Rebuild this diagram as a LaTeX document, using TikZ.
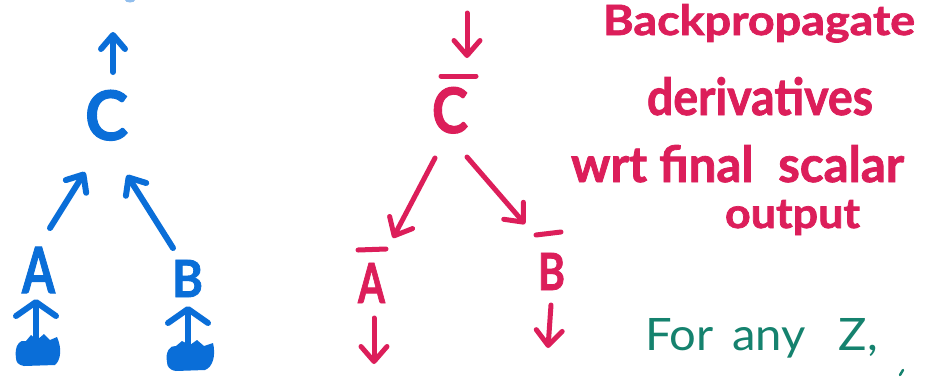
\documentclass[tikz,border=0pt]{standalone}
\usepackage{fontspec}
\setmainfont{Lato}
\newfontfamily\heavyfont{Lato}[FakeBold=1.6]
\usetikzlibrary{arrows.meta}
\definecolor{pblue}{HTML}{0A6ED8}
\definecolor{pred}{HTML}{DC1E5A}
\definecolor{pgreen}{HTML}{15826E}
\newcommand{\fitbox}[3]{\resizebox{#1pt}{#2pt}{\heavyfont\bfseries #3}}
\begin{document}
\begin{tikzpicture}[x=1pt,y=-1pt,
  lbl/.style={inner sep=0pt, outer sep=0pt, anchor=base west},
  pen/.style={line width=6pt, line cap=round, line join=round},
  bluearr/.style={pen, pblue, -{Straight Barb[round,length=14pt,width=24pt]}},
  bluebig/.style={pen, pblue, -{Straight Barb[round,length=14pt,width=40pt]}},
  redarr/.style={pen, line width=5pt, pred, -{Straight Barb[round,length=15pt,width=26pt]}},
  redbar/.style={pen, line width=5pt, pred},
  blob/.style={fill=pblue}]
\fill[white] (0,0) rectangle (927,376);
\useasboundingbox (0,0) rectangle (927,376);

% ---------- blue forward graph ----------
\node[lbl, pblue] (bC) at (85,140) {\fitbox{43}{50}{C}};
\node[lbl, pblue] (bA) at (22,293) {\fitbox{33}{46}{A}};
\node[lbl, pblue] (bB) at (172,297) {\fitbox{31}{37}{B}};

\coordinate (bCout0) at (113,72);
\coordinate (bCout1) at (113,32);
\coordinate (bAC0) at (50,228);
\coordinate (bAC1) at (85,172);
\coordinate (bBC0) at (173,248);
\coordinate (bBC1) at (127,175);
\coordinate (bAin0) at (36,342);
\coordinate (bAin1) at (36,299);
\coordinate (bBin0) at (188,346);
\coordinate (bBin1) at (188,306);

\draw[bluearr] (bCout0) -- (bCout1);
\draw[bluearr] (bAC0) -- (bAC1);
\draw[bluearr] (bBC0) -- (bBC1);
\draw[bluebig] (bAin0) -- (bAin1);
\draw[bluebig] (bBin0) -- (bBin1);

% scribbled blobs
\fill[blob] (16,358) .. controls (14,346) and (20,339) .. (26,341) -- (31,335) -- (37,340) -- (44,334) -- (50,340) -- (57,337)
  .. controls (62,348) and (61,360) .. (55,365) -- (24,366) .. controls (18,365) and (16,362) .. (16,358) -- cycle;
\fill[blob] (167,362) .. controls (165,352) and (170,345) .. (176,346) -- (182,341) -- (190,345) -- (197,340) -- (204,346) -- (213,343)
  .. controls (216,355) and (213,367) .. (205,370) -- (176,371) .. controls (169,370) and (167,366) .. (167,362) -- cycle;

% fragment at top edge
\fill[pblue!45] (130,0) ellipse [x radius=5pt, y radius=2.5pt];

% ---------- red backward graph ----------
\node[lbl, pred] (rC) at (432,133) {\fitbox{36}{46}{C}};
\node[lbl, pred] (rA) at (358,303) {\fitbox{27}{40}{A}};
\node[lbl, pred] (rB) at (538,290) {\fitbox{27}{37}{B}};

\draw[redbar] (441,76) -- (476,76);
\draw[redbar] (358,250) -- (386,249);
\draw[redbar] (536,235) -- (561,232);

\coordinate (rCin0) at (467,13);
\coordinate (rCin1) at (467,58);
\coordinate (rCA0) at (435,158);
\coordinate (rCA1) at (393,238);
\coordinate (rCB0) at (467,157);
\coordinate (rCB1) at (525,224);
\coordinate (rAout0) at (374,318);
\coordinate (rAout1) at (374,364);
\coordinate (rBout0) at (551,305);
\coordinate (rBout1) at (548,348);

\draw[redarr] (rCin0) -- (rCin1);
\draw[redarr] (rCA0) -- (rCA1);
\draw[redarr] (rCB0) -- (rCB1);
\draw[redarr] (rAout0) -- (rAout1);
\draw[redarr] (rBout0) -- (rBout1);

% ---------- text ----------
\node[lbl, pred] (t1) at (603,35) {\fitbox{312}{31}{Backpropagate}};
\node[lbl, pred] (t2) at (647,115) {\fitbox{226}{38}{derivatives}};
\node[lbl, pred] (t3) at (571,182) {\fitbox{333}{37}{wrt final\hspace{0.5em}scalar}};
\node[lbl, pred] (t4) at (725,228) {\fitbox{135}{28}{output}};
\node[lbl, pgreen] (t5) at (645,350) {\resizebox{233pt}{32pt}{For\hspace{0.4em}any\hspace{0.7em}Z,}};

% fragment at bottom edge
\draw[pgreen, line width=2.5pt, line cap=round] (900,375) -- (903,370);
\end{tikzpicture}
\end{document}
